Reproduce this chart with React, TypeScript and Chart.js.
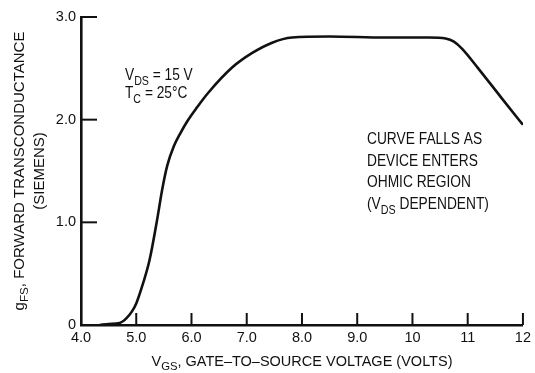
import React, { useEffect, useRef } from "react";
import { Chart, registerables } from "chart.js";

Chart.register(...registerables);

// ---- data ----
const vgsVolts = [4.34, 4.5, 4.7, 4.82, 4.92, 5.0, 5.12, 5.24, 5.37, 5.47, 5.56, 5.68, 5.8, 5.93, 6.1, 6.3, 6.74, 7.1, 7.46, 7.82, 8.5, 9.5, 10.3, 10.6, 10.75, 10.9, 11.19, 11.6, 11.94, 12.0];
const gfsSiemens = [0.0, 0.01, 0.02, 0.065, 0.13, 0.21, 0.4, 0.63, 1.0, 1.32, 1.55, 1.74, 1.87, 1.99, 2.12, 2.26, 2.51, 2.65, 2.75, 2.8, 2.81, 2.8, 2.8, 2.79, 2.76, 2.69, 2.5, 2.22, 1.99, 1.95];

const xTickValues = [4, 5, 6, 7, 8, 9, 10, 11, 12];
const xTickLabels = ["4.0", "5.0", "6.0", "7.0", "8.0", "9.0", "10", "11", "12"];
const yTickValues = [0, 1, 2, 3];
const yTickLabels = ["0", "1.0", "2.0", "3.0"];

type Seg = { t: string; sub?: boolean };
const xTitle: Seg[] = [{ t: "V" }, { t: "GS", sub: true }, { t: ", GATE\u2013TO\u2013SOURCE VOLTAGE (VOLTS)" }];
const yTitle1: Seg[] = [{ t: "g" }, { t: "FS", sub: true }, { t: ", FORWARD TRANSCONDUCTANCE" }];
const yTitle2: Seg[] = [{ t: "(SIEMENS)" }];
const noteLeft: Seg[][] = [
  [{ t: "V" }, { t: "DS", sub: true }, { t: " = 15 V" }],
  [{ t: "T" }, { t: "C", sub: true }, { t: " = 25\u00B0C" }],
];
const noteRight: Seg[][] = [
  [{ t: "CURVE FALLS AS" }],
  [{ t: "DEVICE ENTERS" }],
  [{ t: "OHMIC REGION" }],
  [{ t: "(V" }, { t: "DS", sub: true }, { t: " DEPENDENT)" }],
];

const INK = "#111";
const SANS = "'Liberation Sans', Arial, Helvetica, sans-serif";

function segWidth(ctx: CanvasRenderingContext2D, segs: Seg[], size: number, family: string) {
  let w = 0;
  for (const s of segs) {
    ctx.font = `${s.sub ? size * 0.78 : size}px ${family}`;
    w += ctx.measureText(s.t).width;
  }
  return w;
}

function drawSegs(
  ctx: CanvasRenderingContext2D,
  segs: Seg[],
  x: number,
  y: number,
  size: number,
  family: string,
  align: "left" | "center",
  condense = 1
) {
  const total = segWidth(ctx, segs, size, family);
  ctx.save();
  ctx.translate(x, y);
  ctx.scale(condense, 1);
  let cx = align === "center" ? -total / 2 : 0;
  ctx.textAlign = "left";
  ctx.textBaseline = "alphabetic";
  for (const s of segs) {
    const sz = s.sub ? size * 0.78 : size;
    ctx.font = `${sz}px ${family}`;
    ctx.fillText(s.t, cx, s.sub ? size * 0.28 : 0);
    cx += ctx.measureText(s.t).width;
  }
  ctx.restore();
}

const decorPlugin = {
  id: "decor",
  afterDraw(chart: any) {
    const { ctx, chartArea, scales } = chart;
    const xs = scales.x;
    const ys = scales.y;
    ctx.save();
    ctx.strokeStyle = INK;
    ctx.fillStyle = INK;
    ctx.lineWidth = 2;
    ctx.lineCap = "butt";
    // inward ticks
    for (const v of xTickValues) {
      if (v === xTickValues[0]) continue;
      const px = xs.getPixelForValue(v);
      ctx.beginPath();
      ctx.moveTo(px, chartArea.bottom);
      ctx.lineTo(px, chartArea.bottom - 12);
      ctx.stroke();
    }
    for (const v of yTickValues) {
      if (v === yTickValues[0]) continue;
      const py = ys.getPixelForValue(v);
      ctx.beginPath();
      ctx.moveTo(chartArea.left, py);
      ctx.lineTo(chartArea.left + 16, py);
      ctx.stroke();
    }
    // axis titles
    const cxm = (chartArea.left + chartArea.right) / 2;
    const cym = (chartArea.top + chartArea.bottom) / 2;
    drawSegs(ctx, xTitle, cxm, 366, 14.5, SANS, "center");
    ctx.save();
    ctx.translate(24, cym);
    ctx.rotate(-Math.PI / 2);
    drawSegs(ctx, yTitle1, 0, 0, 15, SANS, "center");
    ctx.restore();
    ctx.save();
    ctx.translate(44, cym);
    ctx.rotate(-Math.PI / 2);
    drawSegs(ctx, yTitle2, 0, 0, 15, SANS, "center");
    ctx.restore();
    // notes
    noteLeft.forEach((line, i) => drawSegs(ctx, line, 125, 80 + i * 18, 16.5, SANS, "left", 0.83));
    noteRight.forEach((line, i) => drawSegs(ctx, line, 367, 144 + i * 21.7, 16.8, SANS, "left", 0.82));
    ctx.restore();
  },
};

export default function App() {
  const ref = useRef<HTMLCanvasElement | null>(null);
  useEffect(() => {
    document.body.style.margin = "0";
    const canvas = ref.current;
    if (!canvas) return;
    const chart = new Chart(canvas, {
      type: "line",
      data: {
        datasets: [
          {
            data: vgsVolts.map((x, i) => ({ x, y: gfsSiemens[i] })),
            borderColor: INK,
            borderWidth: 2.6,
            pointRadius: 0,
            cubicInterpolationMode: "monotone",
            fill: false,
          },
        ],
      },
      options: {
        animation: false,
        responsive: true,
        maintainAspectRatio: false,
        layout: { padding: { top: 17, right: 10, left: 0, bottom: 0 } },
        plugins: { legend: { display: false }, tooltip: { enabled: false }, title: { display: false } },
        scales: {
          x: {
            type: "linear",
            min: 4,
            max: 12,
            afterBuildTicks: (s: any) => {
              s.ticks = xTickValues.map((v) => ({ value: v }));
            },
            afterFit: (s: any) => {
              s.height = 48;
            },
            ticks: {
              callback: (_v: any, i: number) => xTickLabels[i],
              color: INK,
              font: { family: SANS, size: 14.5 },
              padding: 4,
              maxRotation: 0,
              autoSkip: false,
            },
            grid: { display: false, drawTicks: false },
            border: { display: true, color: INK, width: 2.6 },
          },
          y: {
            type: "linear",
            min: 0,
            max: 3,
            afterBuildTicks: (s: any) => {
              s.ticks = yTickValues.map((v) => ({ value: v }));
            },
            afterFit: (s: any) => {
              s.width = 81;
            },
            ticks: {
              callback: (_v: any, i: number) => yTickLabels[i],
              color: INK,
              font: { family: SANS, size: 14.5 },
              padding: 5,
              autoSkip: false,
            },
            grid: { display: false, drawTicks: false },
            border: { display: true, color: INK, width: 2.6 },
          },
        },
      },
      plugins: [decorPlugin],
    });
    return () => chart.destroy();
  }, []);
  return (
    <div style={{ position: "fixed", left: 0, top: 0, width: 535, height: 373, background: "#fff" }}>
      <canvas ref={ref} />
    </div>
  );
}
